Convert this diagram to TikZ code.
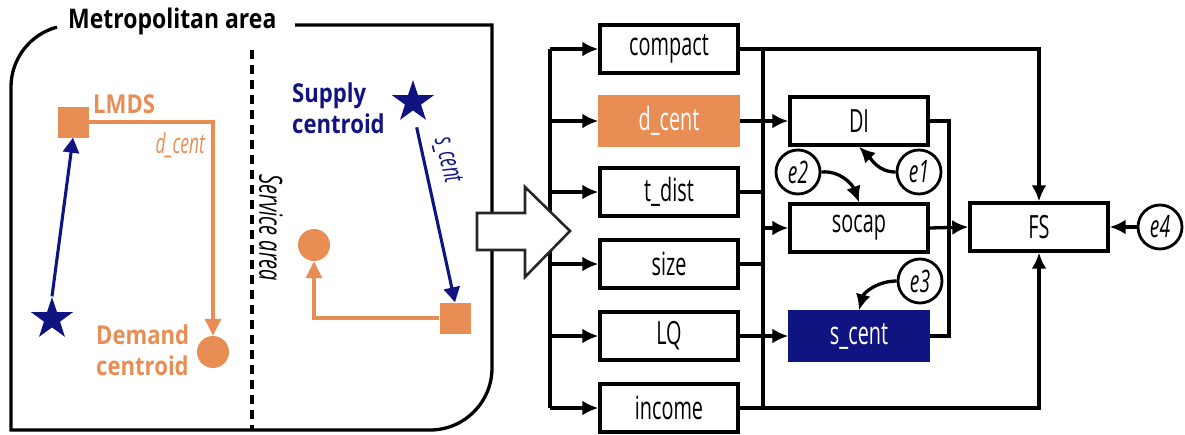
\documentclass[tikz,border=0pt]{standalone}
\usepackage{fontspec}
\setmainfont{Open Sans}[FakeStretch=0.62]
\newfontfamily\headfont{Open Sans}[FakeStretch=0.85]
\usetikzlibrary{arrows.meta,shapes.geometric}
\definecolor{orng}{RGB}{232,142,84}
\definecolor{navy}{RGB}{16,20,128}
\tikzset{
  box/.style={draw, line width=3.4pt, minimum width=138pt, minimum height=48pt, inner sep=0pt, font=\fontsize{32}{32}\selectfont},
  conn/.style={line width=3.3pt},
  arr/.style={conn, -{Latex[length=16pt,width=15pt]}},
  errnode/.style={draw, circle, line width=2.8pt, minimum size=44pt, inner sep=0pt, font=\itshape\fontsize{31}{31}\selectfont},
  frame/.style={line width=3.3pt},
  oline/.style={orng, line width=3.3pt, -{Triangle[length=17pt,width=16pt]}},
  bline/.style={navy, line width=3.1pt, -{Triangle[length=15pt,width=16pt]}},
  sqr/.style={fill=orng, minimum size=31pt, inner sep=0pt},
  dotnode/.style={circle, fill=orng, minimum size=32pt, inner sep=0pt},
  starnode/.style={star, star points=5, star point ratio=2.6, fill=navy, minimum size=44pt, inner sep=0pt},
  bigtxt/.style={font=\headfont\bfseries\fontsize{26}{31}\selectfont, inner sep=0pt},
  smalltxt/.style={font=\itshape\fontsize{28}{28}\selectfont, inner sep=0pt}
}
\begin{document}
\begin{tikzpicture}[x=1pt,y=1pt]
\useasboundingbox (0,0) rectangle (1185,-434);
% frame
\draw[frame] (295,-25) -- (492,-25) -- (492,-368) arc[start angle=0, end angle=-90, radius=62] -- (11,-430) -- (11,-87) arc[start angle=180, end angle=105, radius=62];
\node[bigtxt, font=\headfont\bfseries\fontsize{27}{27}\selectfont, anchor=west] (title) at (68,-21) {Metropolitan area};
\draw[line width=3.2pt, dash pattern=on 9pt off 6pt] (252,-50) -- (252,-430);
\node[smalltxt, font=\itshape\fontsize{32}{32}\selectfont, rotate=-90] (svc) at (271,-228) {Service area};
% left scene
\node[sqr] (lmds) at (73,-122) {};
\node[bigtxt, text=orng, anchor=west] (lmdstxt) at (93,-104) {LMDS};
\node[dotnode] (dcirc) at (213,-352) {};
\draw[oline] (lmds.east) -| (dcirc.north);
\node[smalltxt, text=orng, anchor=east] (dcentlbl) at (205,-145) {d\_cent};
\node[starnode] (s1) at (52,-319) {};
\draw[bline] (s1.north) -- (lmds.south);
\node[bigtxt, text=orng, anchor=west, align=left] (demand) at (96,-350) {Demand\\centroid};
% right scene
\node[starnode] (s2) at (413,-102) {};
\node[bigtxt, text=navy, anchor=west, align=left] (supply) at (292,-108) {Supply\\centroid};
\node[sqr] (sq2) at (455,-318) {};
\node[dotnode] (c2) at (314,-245) {};
\draw[bline, shorten <=17pt] (s2.south) -- (sq2.north);
\node[smalltxt, text=navy, rotate=-76] (scentlbl) at (447,-160) {s\_cent};
\draw[oline] (sq2.west) -| (c2.south);
% boxes
\node[box] (compact) at (669,-49) {compact};
\node[box, fill=orng, draw=orng, text=white] (dcent) at (669,-121) {d\_cent};
\node[box] (tdist) at (669,-192) {t\_dist};
\node[box] (size) at (669,-264) {size};
\node[box] (LQ) at (669,-336) {LQ};
\node[box] (income) at (669,-408) {income};
\node[box] (DI) at (859,-121) {DI};
\node[box] (socap) at (859,-228) {socap};
\node[box, fill=navy, draw=navy, text=white] (scent) at (859,-336) {s\_cent};
\node[box] (FS) at (1039,-227) {FS};
\node[errnode] (e1) at (919,-172) {e1};
\node[errnode] (e2) at (798,-172) {e2};
\node[errnode] (e3) at (920,-281) {e3};
\node[errnode] (e4) at (1160,-227) {e4};
\coordinate (lbus) at (550,0);
\coordinate (rbus) at (763,0);
\coordinate (mbus) at (949,0);
% left bus
\draw[conn] (lbus |- compact) -- (lbus |- income);
\foreach \n in {compact,dcent,tdist,size,LQ,income}
  \draw[arr] (lbus |- \n) -- (\n.west);
% right bus
\draw[conn] (rbus |- compact) -- (rbus |- income);
\draw[arr] (compact.east) -| (FS.north);
\draw[arr] (income.east) -| (FS.south);
\draw[conn] (tdist.east) -- (tdist.east -| rbus);
\draw[conn] (size.east) -- (size.east -| rbus);
\draw[arr] (rbus |- socap) -- (socap.west);
\draw[arr] (dcent.east) -- (DI.west);
\draw[arr] (LQ.east) -- (scent.west);
\draw[conn] (DI.east) -- (DI.east -| mbus) -- (mbus |- scent) -- (scent.east);
\draw[arr] (socap.east) -- (FS.west);
\draw[arr] (e1.west) to[out=180, in=-45] (DI.south);
\draw[arr] (e2.east) to[out=5, in=110] (socap.north);
\draw[arr] (e3.west) to[out=180, in=75] (scent.north);
\draw[arr] (e4.west) -- (FS.east);
% block arrow
\draw[line width=2.6pt, fill=white, draw=black!85] (477,-213) -- (525,-213) -- (525,-187) -- (570,-231) -- (525,-277) -- (525,-250) -- (477,-250) -- cycle;
\end{tikzpicture}
\end{document}
